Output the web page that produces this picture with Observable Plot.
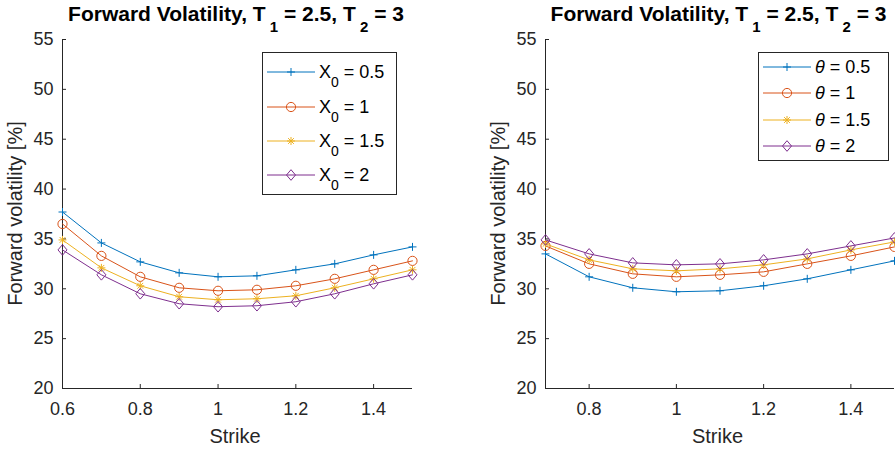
<!DOCTYPE html>
<html><head><meta charset="utf-8">
<script src="https://cdn.jsdelivr.net/npm/d3@7"></script>
<script src="https://cdn.jsdelivr.net/npm/@observablehq/plot@0.6"></script>
<style>
body{margin:0;background:#fff;}
#wrap{position:relative;width:895px;height:451px;overflow:hidden;background:#fff;}
#wrap svg{position:absolute;top:0;overflow:visible;max-width:none;}
</style></head><body><div id="wrap"></div>
<script>
// ---------- data ----------
const strikeLeft = [0.6, 0.7, 0.8, 0.9, 1.0, 1.1, 1.2, 1.3, 1.4, 1.5];
const volX0_05 = [37.7, 34.6, 32.7, 31.6, 31.2, 31.3, 31.9, 32.5, 33.4, 34.2];
const volX0_1  = [36.5, 33.3, 31.2, 30.1, 29.8, 29.9, 30.3, 31.0, 31.9, 32.8];
const volX0_15 = [34.9, 32.1, 30.3, 29.2, 28.9, 29.0, 29.3, 30.1, 31.0, 31.9];
const volX0_2  = [33.9, 31.4, 29.5, 28.5, 28.2, 28.3, 28.7, 29.5, 30.5, 31.4];

const strikeRight = [0.7, 0.8, 0.9, 1.0, 1.1, 1.2, 1.3, 1.4, 1.5];
const volTh05 = [33.5, 31.2, 30.1, 29.7, 29.8, 30.3, 31.0, 31.9, 32.8];
const volTh1  = [34.3, 32.5, 31.5, 31.2, 31.4, 31.7, 32.5, 33.3, 34.2];
const volTh15 = [34.5, 32.9, 32.0, 31.8, 32.0, 32.4, 33.0, 33.9, 34.7];
const volTh2  = [34.9, 33.5, 32.6, 32.4, 32.5, 32.9, 33.5, 34.3, 35.1];

const paramValues = ["0.5", "1", "1.5", "2"];
const yTicks = [20, 25, 30, 35, 40, 45, 50, 55];
const xTicksLeft = [0.6, 0.8, 1, 1.2, 1.4];
const xTicksRight = [0.8, 1, 1.2, 1.4];
const titleParts = ["Forward Volatility, T", "1", " = 2.5, T", "2", " = 3"];
const yLabel = "Forward volatility [%]";
const xLabel = "Strike";

// ---------- styling ----------
const colors = ["#0072BD", "#D95319", "#EDB120", "#7E2F8E"];
const axisColor = "#262626";
const FONT = "'Liberation Sans', Arial, Helvetica, sans-serif";

const symPlus = {draw(c, s) {const r = Math.sqrt(s / Math.PI); c.moveTo(-r, 0); c.lineTo(r, 0); c.moveTo(0, -r); c.lineTo(0, r);}};
const symCircle = {draw(c, s) {const r = Math.sqrt(s / Math.PI); c.moveTo(r, 0); c.arc(0, 0, r, 0, 2 * Math.PI); c.closePath();}};
const symAst = {draw(c, s) {const r = Math.sqrt(s / Math.PI); const d = r * 0.72;
  c.moveTo(-r, 0); c.lineTo(r, 0); c.moveTo(0, -r); c.lineTo(0, r);
  c.moveTo(-d, -d); c.lineTo(d, d); c.moveTo(-d, d); c.lineTo(d, -d);}};
const symDiamond = {draw(c, s) {const r = Math.sqrt(s / Math.PI); const w = r * 0.85;
  c.moveTo(0, -r); c.lineTo(w, 0); c.lineTo(0, r); c.lineTo(-w, 0); c.closePath();}};
const symbols = [symPlus, symCircle, symAst, symDiamond];
const symR = [4, 4.6, 4, 5.3];

function makeRows(strikes, seriesList) {
  const rows = [];
  seriesList.forEach((vals, i) => strikes.forEach((k, j) => rows.push({series: i, strike: k, vol: vals[j]})));
  return rows;
}

function panel({strikes, series, xDomain, xTicks, width, marginLeft, marginRight, legendBox, legendRows, legendLabel}) {
  const rows = makeRows(strikes, series);
  const M = {top: 39, bottom: 63};
  const innerH = 451 - M.top - M.bottom;
  const innerW = width - marginLeft - marginRight;
  const marks = [
    Plot.ruleX([xDomain[0]], {stroke: axisColor, strokeWidth: 1}),
    Plot.ruleY([20], {stroke: axisColor, strokeWidth: 1}),
    Plot.tickX(xTicks, {x: d => d, stroke: axisColor, insetTop: innerH - 4}),
    Plot.tickY(yTicks, {y: d => d, stroke: axisColor, insetRight: innerW - 4}),
    Plot.axisX({ticks: xTicks, tickSize: 0, tickPadding: 14, tickFormat: d => String(d), label: null, fontSize: 18, fill: axisColor}),
    Plot.axisY({ticks: yTicks, tickSize: 0, tickPadding: 9, tickFormat: d => String(d), label: null, fontSize: 18, fill: axisColor})
  ];
  series.forEach((_, i) => {
    const data = rows.filter(r => r.series === i);
    marks.push(Plot.line(data, {x: "strike", y: "vol", stroke: colors[i], strokeWidth: 1}));
    marks.push(Plot.dot(data, {x: "strike", y: "vol", symbol: symbols[i], r: symR[i], stroke: colors[i], fill: "none", strokeWidth: 1}));
  });
  const svg = Plot.plot({
    width, height: 451, marginLeft, marginRight, marginTop: M.top, marginBottom: M.bottom,
    x: {domain: xDomain}, y: {domain: [20, 55]},
    style: {fontFamily: FONT, fontSize: "18px", color: axisColor, background: "transparent", overflow: "visible"},
    marks
  });
  const s = d3.select(svg);
  const cx = marginLeft + innerW / 2;
  // title
  const t = s.append("text").attr("x", cx - 1).attr("y", 21).attr("text-anchor", "middle")
    .attr("font-family", FONT).attr("font-weight", "bold").attr("font-size", 21).attr("fill", "#000");
  titleParts.forEach((p, i) => {
    const sub = i % 2 === 1;
    const ts = t.append("tspan").text(sub ? " " + p : p);
    if (sub) ts.attr("font-size", 15).attr("dy", 11);
    else if (i > 0) ts.attr("dy", -11);
  });
  // axis labels
  s.append("text").attr("x", cx - 2).attr("y", 443).attr("text-anchor", "middle")
    .attr("font-family", FONT).attr("font-size", 20).attr("fill", axisColor).text(xLabel);
  s.append("text").attr("transform", `translate(${marginLeft - 40},${M.top + innerH / 2}) rotate(-90)`)
    .attr("text-anchor", "middle").attr("font-family", FONT).attr("font-size", 20).attr("fill", axisColor).text(yLabel);
  // legend
  const g = s.append("g").attr("text-anchor", "start");
  g.append("rect").attr("x", legendBox.x + 0.5).attr("y", legendBox.y + 0.5).attr("width", legendBox.w).attr("height", legendBox.h)
    .attr("fill", "#fff").attr("stroke", axisColor).attr("stroke-width", 1);
  paramValues.forEach((v, i) => {
    const y = legendRows[i];
    const x0 = legendBox.x + 5;
    g.append("line").attr("x1", x0).attr("x2", x0 + 48).attr("y1", y).attr("y2", y).attr("stroke", colors[i]).attr("stroke-width", 1);
    g.append("path").attr("transform", `translate(${x0 + 24},${y})`)
      .attr("d", d3.symbol().type(symbols[i]).size(Math.PI * symR[i] * symR[i])()).attr("fill", "none").attr("stroke", colors[i]);
    legendLabel(g, x0 + 52, y, v);
  });
  return svg;
}

const wrap = document.getElementById("wrap");

const left = panel({
  strikes: strikeLeft, series: [volX0_05, volX0_1, volX0_15, volX0_2],
  xDomain: [0.6, 1.5], xTicks: xTicksLeft, width: 450, marginLeft: 62, marginRight: 38,
  legendBox: {x: 262, y: 52, w: 134, h: 142}, legendRows: [72, 107, 141, 175],
  legendLabel: (g, x, y, v) => {
    const t = g.append("text").attr("x", x).attr("y", y + 6).attr("text-anchor", "start").attr("font-family", FONT).attr("font-size", 18).attr("fill", "#000");
    t.append("tspan").text("X");
    t.append("tspan").attr("font-size", 14).attr("dy", 9).text("0");
    t.append("tspan").attr("dy", -9).text(" = " + v);
  }
});
left.style.left = "0px";
wrap.appendChild(left);

const right = panel({
  strikes: strikeRight, series: [volTh05, volTh1, volTh15, volTh2],
  xDomain: [0.7, 1.5], xTicks: xTicksRight, width: 445, marginLeft: 95, marginRight: 1,
  legendBox: {x: 308, y: 52, w: 130, h: 108}, legendRows: [67, 93, 120, 146],
  legendLabel: (g, x, y, v) => {
    const t = g.append("text").attr("x", x).attr("y", y + 6).attr("text-anchor", "start").attr("font-family", FONT).attr("font-size", 18).attr("fill", "#000");
    t.append("tspan").attr("font-style", "italic").text("θ");
    t.append("tspan").text(" = " + v);
  }
});
right.style.left = "450px";
wrap.appendChild(right);
</script></body></html>
